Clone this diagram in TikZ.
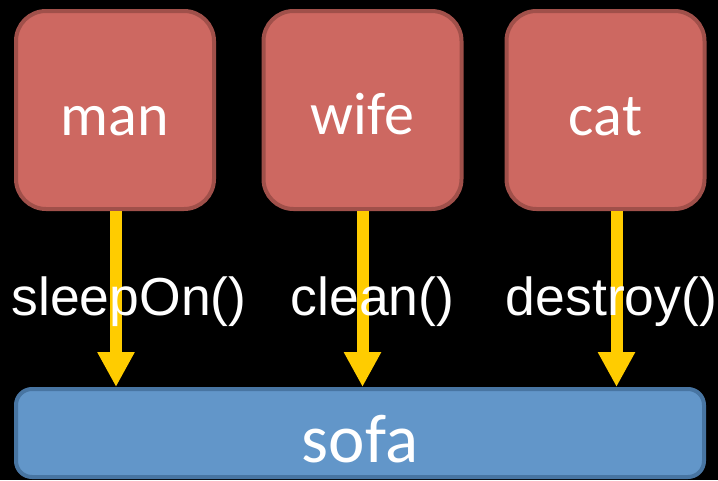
\documentclass[tikz,border=0pt]{standalone}
\usepackage{fontspec}
\setmainfont{Liberation Sans}
\newfontfamily\boxfont{Carlito}
\usetikzlibrary{arrows.meta,calc}
\definecolor{redfill}{RGB}{205,104,97}
\definecolor{redline}{RGB}{160,80,74}
\definecolor{bluefill}{RGB}{98,150,201}
\definecolor{blueline}{RGB}{72,117,162}
\definecolor{arrowyellow}{RGB}{255,204,0}
\tikzset{
  actor/.style={draw=redline, fill=redfill, line width=4pt, rounded corners=30pt,
    minimum width=198pt, minimum height=198pt, inner sep=0pt, outer sep=2pt},
  target/.style={draw=blueline, fill=bluefill, line width=4pt, rounded corners=16pt,
    minimum width=688pt, minimum height=88pt, inner sep=0pt, outer sep=2pt},
  boxtext/.style={text=white, inner sep=0pt, anchor=base, font=\boxfont\fontsize{60}{60}\selectfont},
  sofatext/.style={text=white, inner sep=0pt, anchor=base, font=\boxfont\fontsize{69}{69}\selectfont},
  calllabel/.style={text=white, inner sep=0pt, anchor=base, font=\fontsize{53.5}{53.5}\selectfont},
  callarrow/.style={draw=arrowyellow, line width=12pt, line cap=butt,
    -{Triangle[width=35pt,length=35pt,fill=arrowyellow]}},
}
\begin{document}
\begin{tikzpicture}[x=1pt,y=-1pt]
  \fill[black] (0,0) rectangle (718,480);
  \useasboundingbox (0,0) rectangle (718,480);

  \node[actor] (man) at (115,110) {};
  \node[actor] (wife) at (362.5,110) {};
  \node[actor] (cat) at (605.5,110) {};
  \node[target] (sofa) at (360,433) {};

  \node[boxtext] (mantext) at ($(man.center)+(0,25)$) {man};
  \node[boxtext] (wifetext) at ($(wife.center)+(0,24)$) {wife};
  \node[boxtext] (cattext) at ($(cat.center)+(0,25)$) {cat};
  \node[sofatext] (sofatext) at ($(sofa.center)+(0,29)$) {sofa};

  \coordinate (mana) at ($(man.south)+(1,0)$);
  \coordinate (wifea) at ($(wife.south)+(0,0)$);
  \coordinate (cata) at ($(cat.south)+(11,0)$);

  \draw[callarrow] (mana) -- (mana |- sofa.north);
  \draw[callarrow] (wifea) -- (wifea |- sofa.north);
  \draw[callarrow] (cata) -- (cata |- sofa.north);

  \node[calllabel] (sleep) at (129,315) {sleepOn()};
  \node[calllabel] (clean) at (372.5,315) {clean()};
  \node[calllabel] (destroy) at (611.5,315) {destroy()};
\end{tikzpicture}
\end{document}
